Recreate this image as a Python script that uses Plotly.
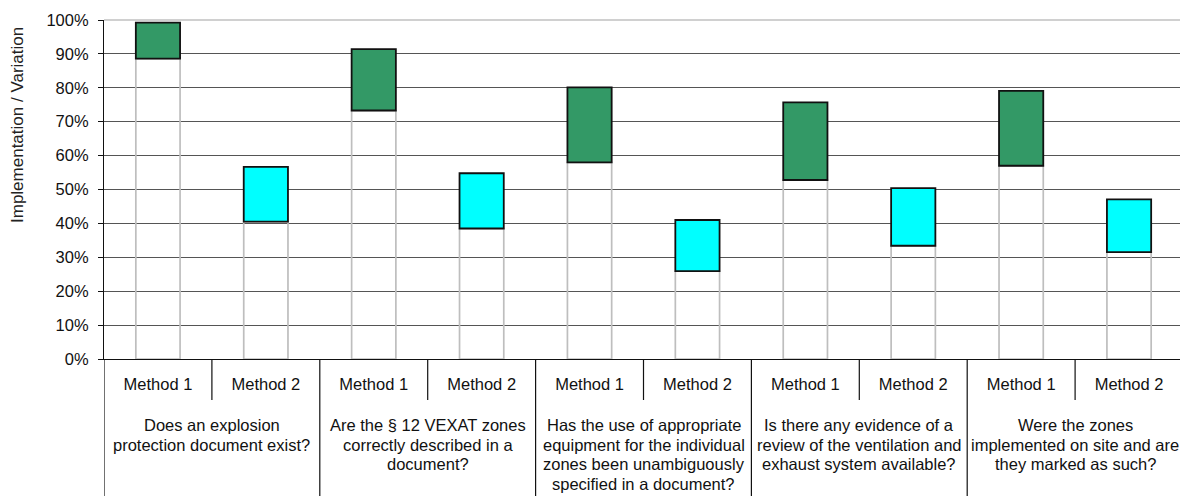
import plotly.graph_objects as go

# ---- data ----
questions = [
    ["Does an explosion", "protection document exist?"],
    ["Are the § 12 VEXAT zones", "correctly described in a", "document?"],
    ["Has the use of appropriate", "equipment for the individual",
     "zones been unambiguously", "specified in a document?"],
    ["Is there any evidence of a", "review of the ventilation and",
     "exhaust system available?"],
    ["Were the zones", "implemented on site and are", "they marked as such?"],
]
methods = ["Method 1", "Method 2"]
m1_low = [0.886, 0.733, 0.580, 0.528, 0.570]
m1_high = [0.992, 0.914, 0.801, 0.757, 0.791]
m2_low = [0.405, 0.385, 0.259, 0.334, 0.315]
m2_high = [0.567, 0.548, 0.410, 0.504, 0.471]
y_ticks = [i / 10 for i in range(11)]

# ---- layout constants ----
# the page body has an 8px default margin, so the figure is drawn 8px in
OFF = 8
W, H = 1188 - OFF, 496 - OFF
ML, MR, MT, MB = 104 - OFF, 5, 20 - OFF, 137
PH = H - MT - MB  # plot height in px
FONT = "Arial, Liberation Sans, sans-serif"


def py(pix):
    """page pixel y (from top of window) -> paper y"""
    return (H - MB - (pix - OFF)) / PH


n = len(questions)
pos_m1 = [2 * i for i in range(n)]
pos_m2 = [2 * i + 1 for i in range(n)]
bw = 0.41

fig = go.Figure()
# invisible bases with grey outline
for pos, low in ((pos_m1, m1_low), (pos_m2, m2_low)):
    fig.add_trace(go.Bar(
        x=pos, y=low, width=bw,
        marker=dict(color="rgba(0,0,0,0)", line=dict(color="#BEBEBE", width=1.7)),
        hoverinfo="skip", showlegend=False,
    ))
# floating ranges
for pos, low, high, col in ((pos_m1, m1_low, m1_high, "#339966"),
                            (pos_m2, m2_low, m2_high, "#00FFFF")):
    fig.add_trace(go.Bar(
        x=pos, y=[h - l for h, l in zip(high, low)], base=low, width=bw,
        marker=dict(color=col, line=dict(color="#111111", width=1.8)),
        showlegend=False,
    ))

shapes = []
# plot frame top / right (light grey)
shapes.append(dict(type="line", xref="paper", yref="paper", x0=0, x1=1, y0=1, y1=1,
                   line=dict(color="#C0C0C0", width=1.5), layer="above"))
shapes.append(dict(type="line", xref="paper", yref="paper", x0=1, x1=1, y0=0, y1=1,
                   line=dict(color="#C0C0C0", width=1.5), layer="above"))
# table dividers below the axis
for i in range(n):
    shapes.append(dict(type="line", xref="x", yref="paper",
                       x0=2 * i + 0.5, x1=2 * i + 0.5, y0=0, y1=py(400),
                       line=dict(color="#111111", width=1.2)))
for i in range(n + 1):
    shapes.append(dict(type="line", xref="x", yref="paper",
                       x0=2 * i - 0.5, x1=2 * i - 0.5, y0=0, y1=py(500),
                       line=dict(color="#111111", width=1.2)))

annotations = []
for i, lines in enumerate(questions):
    for k, line in enumerate(lines):
        annotations.append(dict(
            x=2 * i + 0.5, xref="x", y=py(425 + 19.5 * k), yref="paper",
            text=line, showarrow=False, xanchor="center", yanchor="middle",
            font=dict(family=FONT, size=16.5, color="#111111"),
        ))
annotations.append(dict(
    x=(17 - 104) / (W - ML - MR), xref="paper", y=py(25), yref="paper",
    text="Implementation / Variation", textangle=-90, showarrow=False,
    xanchor="center", yanchor="top",
    font=dict(family=FONT, size=17, color="#222222"),
))

fig.update_layout(
    width=W, height=H,
    margin=dict(l=ML, r=MR, t=MT, b=MB, pad=0, autoexpand=False),
    paper_bgcolor="white", plot_bgcolor="white",
    barmode="overlay",
    shapes=shapes, annotations=annotations,
    font=dict(family=FONT, size=16.5, color="#111111"),
    xaxis=dict(
        range=[-0.5, 2 * n - 0.5],
        tickmode="array", tickvals=pos_m1 + pos_m2,
        ticktext=[methods[0]] * n + [methods[1]] * n,
        showgrid=False, zeroline=False,
        showline=True, linecolor="#111111", linewidth=1.2,
        ticks="", ticklabelstandoff=10,
        tickfont=dict(family=FONT, size=16.5, color="#111111"),
    ),
    yaxis=dict(
        range=[0, 1], tickmode="array", tickvals=y_ticks,
        tickformat=".0%",
        showgrid=True, gridcolor="#555555", gridwidth=1,
        zeroline=False,
        showline=True, linecolor="#111111", linewidth=1.2,
        ticks="outside", ticklen=5, tickcolor="#111111", tickwidth=1,
        ticklabelstandoff=6,
        tickfont=dict(family=FONT, size=16.5, color="#111111"),
    ),
)

fig.write_html("out.html", config={"displayModeBar": False})
